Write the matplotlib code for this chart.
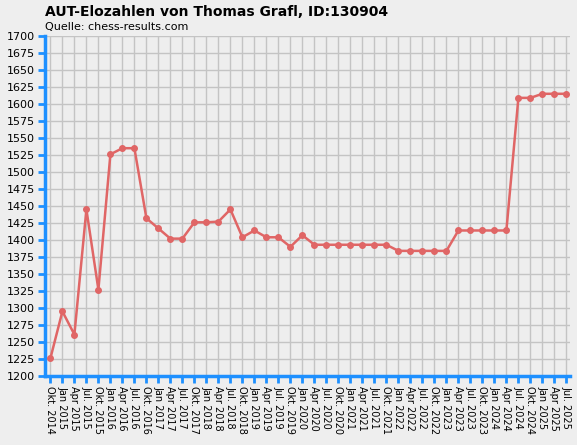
import matplotlib
matplotlib.use("Agg")
import matplotlib.pyplot as plt

labels = []
for y in range(2014, 2026):
    for q in ["Jan", "Apr", "Jul.", "Okt."]:
        if (y == 2014 and q != "Okt.") or (y == 2025 and q == "Okt."):
            continue
        labels.append(f"{q} {y}")
values = [1226, 1295, 1261, 1445, 1327, 1526, 1535, 1535, 1432, 1417, 1402, 1402,
          1426, 1426, 1427, 1445, 1404, 1414, 1404, 1404, 1390, 1407,
          1393, 1393, 1393, 1393, 1393, 1393, 1393,
          1384, 1384, 1384, 1384, 1384,
          1414, 1414, 1414, 1414, 1414,
          1609, 1609, 1615, 1615, 1615]

bg = "#eeeeee"
blue = "#1e90ff"
fig = plt.figure(figsize=(5.77, 4.45), dpi=100, facecolor=bg)
ax = fig.add_axes([45/577, 1-376/445, 525/577, 340/445], facecolor=bg)
x = list(range(len(values)))
ax.plot(x, values, color="#e06666", lw=1.8, marker="o", ms=4, zorder=3)
ax.set_xlim(-0.45, len(values) - 1 + 0.3)
ax.set_ylim(1200, 1700)
ax.set_yticks(range(1200, 1701, 25))
ax.tick_params(axis="y", labelsize=8, colors="black", length=5, width=2, color=blue, pad=2)
ax.set_xticks(x)
ax.set_xticklabels(labels, rotation=-90, fontsize=7)
ax.tick_params(axis="x", length=5, width=2, color=blue, pad=2)
ax.grid(True, color="#c4c4c4", lw=1)
for s in ["top", "right"]:
    ax.spines[s].set_visible(False)
for s in ["left", "bottom"]:
    ax.spines[s].set_color(blue)
    ax.spines[s].set_linewidth(2.5)
fig.text(45/577, 1-12/445, "AUT-Elozahlen von Thomas Grafl, ID:130904", fontsize=10,
         fontweight="bold", va="center")
fig.text(45/577, 1-27/445, "Quelle: chess-results.com", fontsize=8, va="center")
fig.savefig("out.png", dpi=100, facecolor=bg)
